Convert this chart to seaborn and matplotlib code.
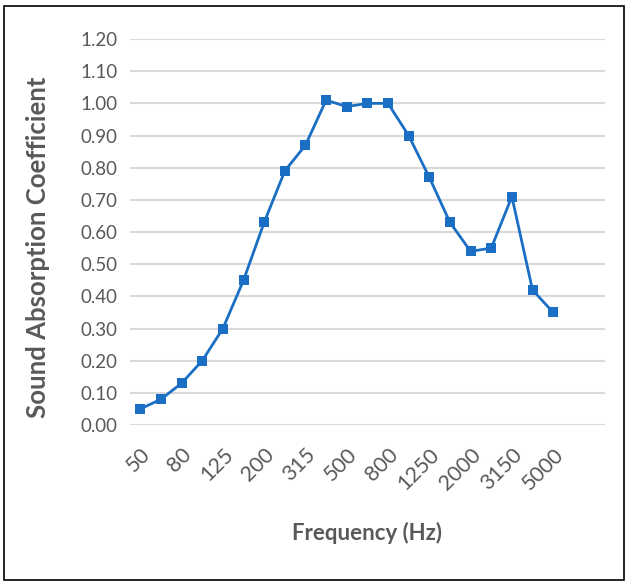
import matplotlib
matplotlib.use('Agg')
import matplotlib.pyplot as plt
import seaborn as sns
from matplotlib.patches import Rectangle

# 1/3 octave bands (last two bands have no data)
freqs = ['50', '63', '80', '100', '125', '160', '200', '250', '315', '400', '500',
         '630', '800', '1000', '1250', '1600', '2000', '2500', '3150', '4000', '5000',
         '6300', '8000']
alpha = [0.05, 0.08, 0.13, 0.20, 0.30, 0.45, 0.63, 0.79, 0.87, 1.01, 0.99,
         1.00, 1.00, 0.90, 0.77, 0.63, 0.54, 0.55, 0.71, 0.42, 0.35]
yticks = [0.0, 0.1, 0.2, 0.3, 0.4, 0.5, 0.6, 0.7, 0.8, 0.9, 1.0, 1.1, 1.2]

sns.set_style('white')
plt.rcParams['font.family'] = ['Lato', 'DejaVu Sans']
grey = '#595959'

fig = plt.figure(figsize=(6.28, 5.83), dpi=100)
ax = fig.add_axes([0.207, 0.271, 0.756, 0.662])

idx = list(range(len(alpha)))
sns.lineplot(x=idx, y=alpha, ax=ax, color='#1a6fc4', linewidth=2,
             marker='s', markersize=7, markeredgewidth=0)

ax.set_xlim(-0.5, len(freqs) - 0.5)
ax.set_ylim(0, 1.2)
ax.set_yticks(yticks)
ax.set_yticklabels(['%.2f' % v for v in yticks], fontsize=13.5, color=grey)
ticks = list(range(0, 21, 2))
ax.set_xticks(ticks)
ax.set_xticklabels([freqs[i] for i in ticks], rotation=45, ha='right',
                   rotation_mode='anchor', fontsize=15.5, color=grey)
ax.tick_params(axis='both', length=0, pad=9)
ax.tick_params(axis='x', pad=14)
ax.yaxis.grid(True, color='#d9d9d9', linewidth=1.5)
ax.set_axisbelow(True)
for s in ax.spines.values():
    s.set_visible(False)

ax.set_xlabel('Frequency (Hz)', fontsize=16, fontweight='bold', color=grey, labelpad=20)
ax.set_ylabel('Sound Absorption Coefficient', fontsize=18.5, fontweight='bold', color=grey)
ax.yaxis.set_label_coords(-0.168, 0.46)

fig.patches.append(Rectangle((0.006, 0.006), 0.988, 0.984, transform=fig.transFigure,
                             fill=False, edgecolor='black', linewidth=1.2))

fig.savefig('out.png', dpi=100)
